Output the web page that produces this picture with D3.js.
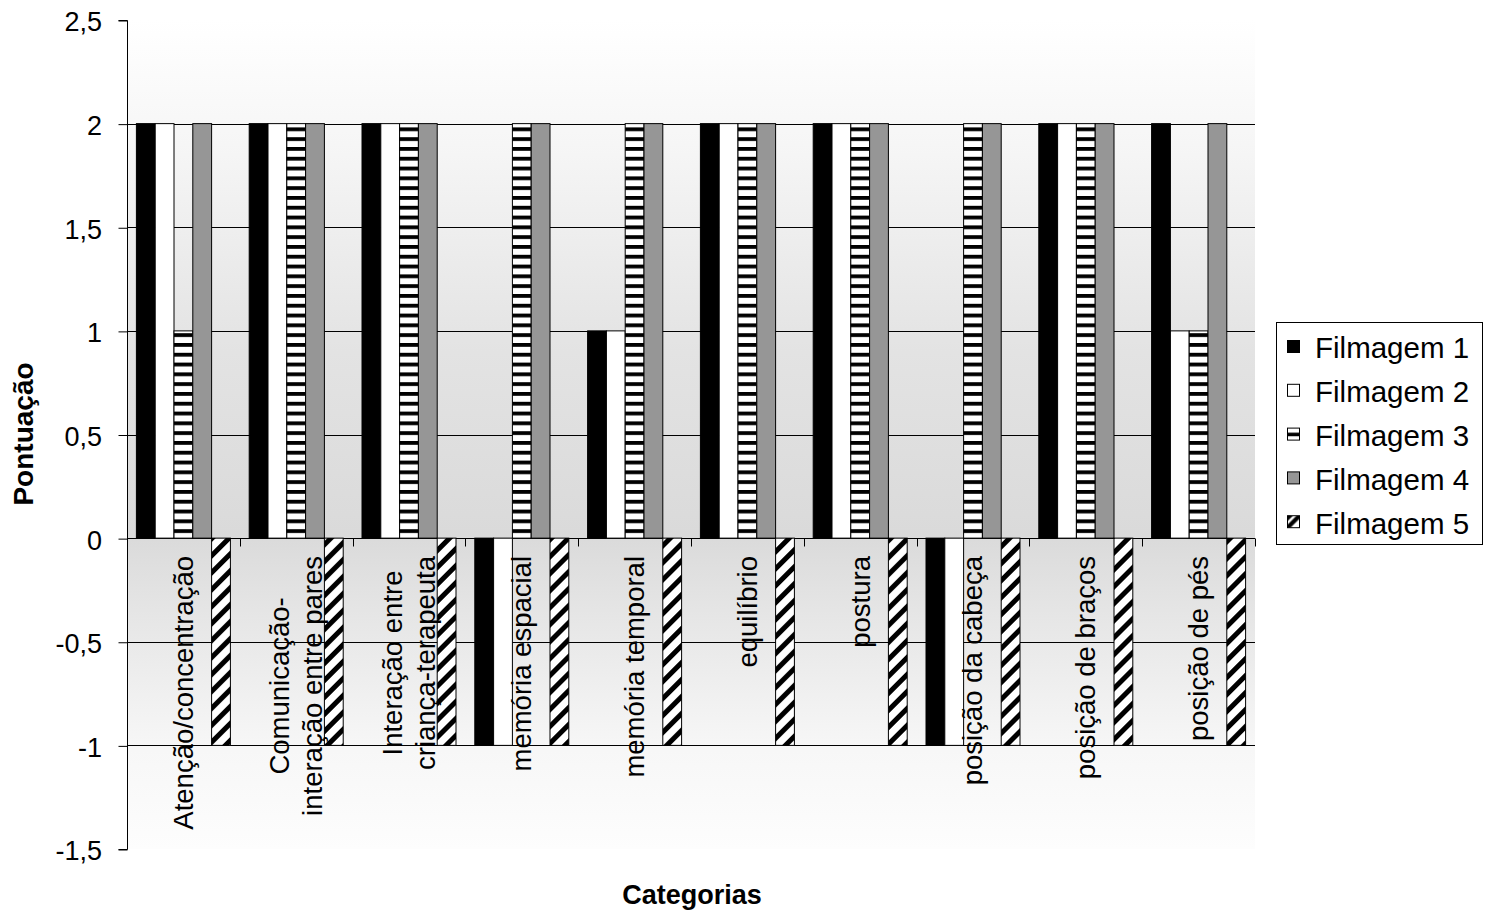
<!DOCTYPE html>
<html><head><meta charset="utf-8">
<script src="https://cdn.jsdelivr.net/npm/d3@7"></script>
<style>body{margin:0;background:#fff} text{font-family:Arial,"Liberation Sans",sans-serif;fill:#000}</style>
</head><body><svg id="c" width="1488" height="912"></svg>
<script>
const categories = [["Atenção/concentração"],["Comunicação-","interação entre pares"],["Interação entre","criança-terapeuta"],["memória espacial"],["memória temporal"],["equilíbrio"],["postura"],["posição da cabeça"],["posição de braços"],["posição de pés"]];
const seriesNames = ["Filmagem 1","Filmagem 2","Filmagem 3","Filmagem 4","Filmagem 5"];
const filmagem1 = [2,2,2,-1,1,2,2,-1,2,2];
const filmagem2 = [2,2,2,-1,1,2,2,-1,2,1];
const filmagem3 = [1,2,2,2,2,2,2,2,2,1];
const filmagem4 = [2,2,2,2,2,2,2,2,2,2];
const filmagem5 = [-1,-1,-1,-1,-1,-1,-1,-1,-1,-1];
const yTicks = [-1.5,-1,-0.5,0,0.5,1,1.5,2,2.5];
const yTickLabels = ["-1,5","-1","-0,5","0","0,5","1","1,5","2","2,5"];
const seriesValues = [filmagem1,filmagem2,filmagem3,filmagem4,filmagem5];
const seriesFill = ["#000000","#ffffff","url(#p3)","#969696","url(#p5)"];
const legendFill = ["#000000","#ffffff","url(#p3l)","#969696","url(#p5l)"];

const svg = d3.select("#c");
const L=127,R=1255,T=20,B=849;
const x0 = d3.scaleBand().domain(d3.range(categories.length)).range([L,R]).paddingInner(0).paddingOuter(0);
const x1 = d3.scaleBand().domain(d3.range(seriesNames.length)).range([0,x0.bandwidth()]).paddingInner(0).paddingOuter(0.5);
const y = d3.scaleLinear().domain([-1.5,2.5]).range([B,T]);

const defs = svg.append("defs");
const g1 = defs.append("linearGradient").attr("id","bg").attr("x1",0).attr("y1",0).attr("x2",0).attr("y2",1);
[[0,"#ffffff"],[0.15,"#f6f6f6"],[0.4,"#e3e3e3"],[0.62,"#dadada"],[0.72,"#e6e6e6"],[0.88,"#f7f7f7"],[1,"#fdfdfd"]].forEach(s=>g1.append("stop").attr("offset",s[0]).attr("stop-color",s[1]));

const p3 = defs.append("pattern").attr("id","p3").attr("patternUnits","userSpaceOnUse").attr("width",20).attr("height",9.8);
p3.append("rect").attr("width",20).attr("height",9.8).attr("fill","#fff");
p3.append("rect").attr("y",0).attr("width",20).attr("height",3.8).attr("fill","#000");
const p5 = defs.append("pattern").attr("id","p5").attr("patternUnits","userSpaceOnUse").attr("width",12).attr("height",12).attr("patternTransform","rotate(45)");
p5.append("rect").attr("width",12).attr("height",12).attr("fill","#fff");
p5.append("rect").attr("width",5).attr("height",12).attr("fill","#000");
const p3l = defs.append("pattern").attr("id","p3l").attr("patternContentUnits","objectBoundingBox").attr("width",1).attr("height",1);
p3l.append("rect").attr("width",1).attr("height",1).attr("fill","#fff");
p3l.append("rect").attr("y",0.38).attr("width",1).attr("height",0.3).attr("fill","#000");
const p5l = defs.append("pattern").attr("id","p5l").attr("patternContentUnits","objectBoundingBox").attr("width",1).attr("height",1);
p5l.append("rect").attr("width",1).attr("height",1).attr("fill","#fff");
p5l.append("path").attr("d","M0,0.75 L0.75,0 L1,0 L1,0.25 L0.25,1 L0,1 Z").attr("fill","#000");
p5l.append("path").attr("d","M0,0 L0.45,0 L0,0.45 Z").attr("fill","#000");

// plot background
svg.append("rect").attr("x",L).attr("y",T).attr("width",R-L).attr("height",B-T).attr("fill","url(#bg)");

// gridlines
svg.append("g").selectAll("line").data(yTicks.filter(t=>t!==2.5&&t!==-1.5&&t!==0)).join("line")
  .attr("x1",L).attr("x2",R).attr("y1",d=>Math.round(y(d))+0.5).attr("y2",d=>Math.round(y(d))+0.5)
  .attr("stroke","#000").attr("stroke-width",1);

// y axis
const yAxis = d3.axisLeft(y).tickValues(yTicks).tickSize(9).tickFormat("");
const ya = svg.append("g").attr("transform",`translate(${L+0.5},0)`).call(yAxis);
ya.select(".domain").attr("stroke","#000").attr("d",`M-9,${T+0.5}H0V${B+0.5}H-9`);
ya.selectAll(".tick line").attr("stroke","#000").attr("transform","translate(0,0.5)");

svg.append("g").selectAll("text").data(yTicks).join("text")
  .attr("transform",(d)=>`translate(102,${y(d)+2})`)
  .attr("text-anchor","end").attr("dy","0.35em").attr("font-size",27)
  .text((d,i)=>yTickLabels[i]);

// x axis line at 0
const y0 = Math.round(y(0))+0.5;
svg.append("line").attr("x1",L).attr("x2",R).attr("y1",y0).attr("y2",y0).attr("stroke","#000");
const xb = d3.range(categories.length+1).map(i=> i<categories.length? x0(i) : R);
svg.append("g").selectAll("line").data(xb).join("line")
  .attr("x1",d=>Math.round(d)+0.5).attr("x2",d=>Math.round(d)+0.5).attr("y1",y0).attr("y2",y0+8).attr("stroke","#000");

// bars
const bars = [];
seriesValues.forEach((vals,s)=>vals.forEach((v,i)=>bars.push({s,i,v})));
svg.append("g").selectAll("rect").data(bars).join("rect")
  .attr("x",d=>x0(d.i)+x1(d.s))
  .attr("width",x1.bandwidth())
  .attr("y",d=>y(Math.max(0,d.v)))
  .attr("height",d=>Math.abs(y(d.v)-y(0)))
  .attr("fill",d=>seriesFill[d.s])
  .attr("stroke","#000").attr("stroke-width",1);

// category labels
const catG = svg.append("g");
categories.forEach((lines,i)=>{
  const cx = x0(i)+x0.bandwidth()/2;
  const fs = 27.5, lh = 33;
  const gg = catG.append("g");
  const texts = lines.map((ln,k)=>{
    const off = (k-(lines.length-1)/2)*lh + 9.3;
    return gg.append("text").attr("font-size",fs).attr("text-anchor","middle").text(ln)
      .attr("data-off",off);
  });
  const maxLen = d3.max(texts,t=>t.node().getComputedTextLength());
  texts.forEach(t=>{
    const off = +t.attr("data-off");
    t.attr("transform",`translate(${cx+off},${556+maxLen/2}) rotate(-90)`);
  });
});

// axis titles
svg.append("text").attr("transform",`translate(33,434) rotate(-90)`).attr("text-anchor","middle")
  .attr("font-size",28).attr("font-weight","bold").text("Pontuação");
svg.append("text").attr("x",692).attr("y",904).attr("text-anchor","middle")
  .attr("font-size",27).attr("font-weight","bold").text("Categorias");

// legend
const lg = svg.append("g");
lg.append("rect").attr("x",1276.5).attr("y",322.5).attr("width",206).attr("height",222).attr("fill","#fff").attr("stroke","#000");
seriesNames.forEach((n,k)=>{
  const cy = 347 + k*43.8;
  lg.append("rect").attr("x",1287.5).attr("y",cy-6.5).attr("width",12).attr("height",12)
    .attr("fill",legendFill[k]).attr("stroke","#000").attr("stroke-width",1);
  lg.append("text").attr("transform",`translate(1315,${cy+1})`).attr("dy","0.35em")
    .attr("font-size",29.5).text(n);
});
</script></body></html>
